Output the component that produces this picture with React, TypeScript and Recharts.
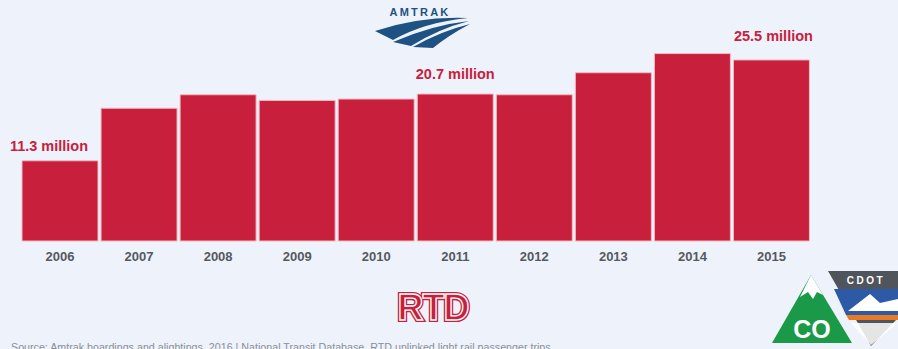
import { BarChart, Bar, XAxis, YAxis, LabelList } from 'recharts';

const years = ['2006', '2007', '2008', '2009', '2010', '2011', '2012', '2013', '2014', '2015'];
const riders = [11.3, 18.7, 20.6, 19.8, 20.0, 20.7, 20.6, 23.7, 26.4, 25.5];
const callouts = ['11.3 million', '', '', '', '', '20.7 million', '', '', '', '25.5 million'];

const RED = '#c8203c';
const BG = '#eef3fb';

const data = years.map((y, i) => ({ year: y, riders: riders[i], callout: callouts[i] }));

// the callouts in the original are hand placed, not at one fixed distance
const calloutShift: Record<number, [number, number]> = { 0: [-11, -10], 5: [0, -15], 9: [2, -19] };

const renderCallout = (props: any) => {
  const { x, y, width, value, index } = props;
  if (!value) return null;
  const [dx, dy] = calloutShift[index] || [0, -10];
  return (
    <text
      x={x + width / 2 + dx}
      y={y + dy}
      textAnchor="middle"
      fill={RED}
      fontSize={14.5}
      fontWeight="bold"
      fontFamily="Liberation Sans, Arial, sans-serif"
    >
      {value}
    </text>
  );
};

const Logos = () => (
  <svg width={898} height={349} style={{ position: 'absolute', left: 0, top: 0, pointerEvents: 'none' }}>
    {/* Amtrak */}
    <g>
      <text x={420} y={16} textAnchor="middle" fill="#1d5282" fontSize={11} fontWeight="bold"
        fontFamily="Liberation Sans, Arial, sans-serif" letterSpacing={2.2}>AMTRAK</text>
      <path d="M375 31 Q420 16 468 18 Q425 22 393 40 Z" fill="#1d5282" />
      <path d="M393 42 Q432 25 469 21 Q438 29 411 46 Z" fill="#1d5282" />
      <path d="M413 47 Q441 31 470 24 Q449 35 433 48 Z" fill="#1d5282" />
    </g>
    {/* RTD */}
    <g fontFamily="Liberation Sans Narrow, Liberation Sans, Arial, sans-serif" fontWeight="bold">
      <text x={433} y={320} textAnchor="middle" fontSize={36} fill={RED} stroke={RED} strokeWidth={4}
        strokeLinejoin="miter" letterSpacing={-1}>RTD</text>
      <text x={433} y={320} textAnchor="middle" fontSize={36} fill="none" stroke="#ffffff" strokeWidth={1.3}
        letterSpacing={-1}>RTD</text>
    </g>
    {/* CO */}
    <g>
      <path d="M811 275 L852 343 L772 343 Z" fill="#1a9a48" />
      <path d="M811 275 L823 295 L817 292 L813 299 L808 292 L800 297 Z" fill="#ffffff" />
      <text x={812} y={338} textAnchor="middle" fill="#ffffff" fontSize={25} fontWeight="bold"
        fontFamily="Liberation Sans, Arial, sans-serif">CO</text>
    </g>
    {/* CDOT */}
    <g>
      <path d="M828 271 L898 271 L898 318 L871 346 Z" fill="#50555b" />
      <text x={866} y={284} textAnchor="middle" fill="#ffffff" fontSize={10} fontWeight="bold"
        fontFamily="Liberation Sans, Arial, sans-serif" letterSpacing={2.5}>CDOT</text>
      <path d="M834 289 L898 289 L898 315 L846 315 Z" fill="#2d5aa6" />
      <path d="M848 311 L870 294 L880 303 L898 299 L898 311 Z" fill="#ffffff" />
      <path d="M846 315 L898 315 L898 320 L849 320 Z" fill="#e87a25" />
      <path d="M851 323 L898 323 L871 345 Z" fill="#ffffff" opacity={0.85} />
    </g>
    {/* source note, cut off by the bottom edge as in the original */}
    <text x={11} y={351} fill="#8a8f96" fontSize={10.7} fontFamily="Liberation Sans, Arial, sans-serif">
      Source: Amtrak boardings and alightings, 2016 | National Transit Database, RTD unlinked light rail passenger trips
    </text>
  </svg>
);

export default function App() {
  return (
    <div style={{ position: 'absolute', left: 0, top: 0, width: 898, height: 349, background: BG, overflow: 'hidden' }}>
      <BarChart
        width={898}
        height={349}
        data={data}
        margin={{ top: 28, right: 87, bottom: 78, left: 20.5 }}
        barCategoryGap={1.5}
      >
        <XAxis
          dataKey="year"
          axisLine={false}
          tickLine={false}
          tickMargin={5}
          tick={{ fill: '#55595f', fontSize: 13, fontWeight: 'bold', fontFamily: 'Liberation Sans, Arial, sans-serif' }}
        />
        <YAxis hide domain={[0, 30]} />
        <Bar dataKey="riders" fill={RED} stroke="#f2b9c3" strokeWidth={1} isAnimationActive={false}>
          <LabelList dataKey="callout" content={renderCallout} />
        </Bar>
      </BarChart>
      <Logos />
    </div>
  );
}
